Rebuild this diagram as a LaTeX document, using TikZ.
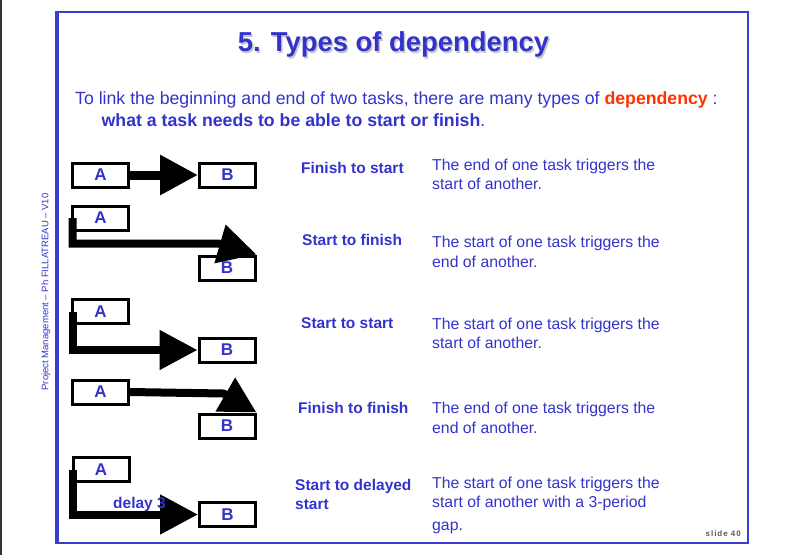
\documentclass[tikz,border=0pt]{standalone}
\usepackage{fontspec}
\setmainfont{Liberation Sans}
\newfontfamily\slidefont[LetterSpace=12]{Liberation Sans}
\usetikzlibrary{arrows.meta,calc}
\definecolor{ink}{RGB}{51,51,204}
\definecolor{hot}{RGB}{255,51,0}
\definecolor{frameblue}{RGB}{60,60,210}

\begin{document}
\begin{tikzpicture}[x=1pt,y=-1pt,
  task/.style={draw=black, line width=3pt, fill=white, minimum width=56pt,
    minimum height=24pt, inner sep=0pt, text=ink,
    font=\fontsize{17}{17}\selectfont\bfseries},
  dep/.style={line width=8pt, line join=miter, line cap=butt,
    -{Triangle[length=38pt,width=38pt]}},
  kind/.style={anchor=base west, text=ink, inner sep=0pt, align=left,
    font=\fontsize{15.5}{19.5}\selectfont\bfseries},
  desc/.style={anchor=base west, text=ink, inner sep=0pt, align=left,
    font=\fontsize{15.8}{19.5}\selectfont},
  titlefont/.style={font=\fontsize{27.4}{30}\selectfont\bfseries, inner sep=0pt, anchor=base},
]
\useasboundingbox (0,0) rectangle (785,555);

% page edge and slide frame
\fill[black!80] (0,0) rectangle (1.5,555);
\draw[frameblue, line width=2pt] (56.5,12) rectangle (747.8,543);
\draw[frameblue, line width=4pt] (57,11) -- (57,544);

% heading with its drop shadow
\node[titlefont, text=black!22] (titleshadow) at (395,53) {5. Types of dependency};
\node[titlefont, text=ink] (title) at (393.5,51.5) {5. Types of dependency};

% introduction
\node[anchor=base west, inner sep=0pt, text=ink, font=\fontsize{17.7}{20}\selectfont]
  (intro) at (75,104.5)
  {To link the beginning and end of two tasks, there are many types of \textcolor{hot}{\bfseries dependency} :};
\node[anchor=base west, inner sep=0pt, text=ink, font=\fontsize{17.7}{20}\selectfont]
  (intro2) at (101.5,126.7)
  {\bfseries what a task needs to be able to start or finish\mdseries.};

% vertical footer
\node[rotate=90, text=ink, inner sep=0pt, font=\fontsize{9.5}{9.5}\selectfont]
  (footer) at (46,292) {Project Management – Ph FILLATREAU – V10};

% task boxes
\node[task] (A1) at (100.5,175) {A};
\node[task] (B1) at (227.5,175) {B};
\node[task] (A2) at (100.5,218) {A};
\node[task] (B2) at (227,268) {B};
\node[task] (A3) at (100.5,311.5) {A};
\node[task] (B3) at (227,350) {B};
\node[task] (A4) at (100.5,392) {A};
\node[task] (B4) at (227,426) {B};
\node[task] (A5) at (101,469.5) {A};
\node[task] (B5) at (227.5,514.5) {B};

% dependency links
\draw[dep, line width=9pt] (A1.east) -- (B1.west);
\draw[dep] ([xshift=1.5pt]A2.west) |- ($(B2.north east)+(-38,-11)$) -- (B2.north east);
\draw[dep] ([xshift=1.5pt]A3.west) |- (B3.west);
\draw[dep, -{Triangle[length=36pt,width=37pt]}] (A4.east) -- ($(B4.north east)+(-33,-19)$) -- (B4.north east);
\draw[dep] ([xshift=1.5pt]A5.west) |- (B5.west);
\node[kind] (lag) at (113,508) {delay 3};

% dependency names (base anchor sits on the last line)
\node[kind] (k1) at (301,173) {Finish to start};
\node[kind] (k2) at (302,245) {Start to finish};
\node[kind] (k3) at (301,328) {Start to start};
\node[kind] (k4) at (298,413) {Finish to finish};
\node[kind] (k5) at (295,509.5) {Start to delayed\\start};

% explanations (base anchor sits on the last line)
\node[desc] (d1) at (432,189.5) {The end of one task triggers the\\start of another.};
\node[desc] (d2) at (432,267) {The start of one task triggers the\\end of another.};
\node[desc] (d3) at (432,348.5) {The start of one task triggers the\\start of another.};
\node[desc] (d4) at (432,433) {The end of one task triggers the\\end of another.};
\node[desc] (d5) at (432,530) {The start of one task triggers the\\start of another with a 3-period\\[3pt]gap.};

% slide number
\node[anchor=base east, inner sep=0pt, text=black!65,
  font=\slidefont\fontsize{8}{8}\selectfont\bfseries] (slideno) at (741,536) {slide 40};
\end{tikzpicture}
\end{document}
